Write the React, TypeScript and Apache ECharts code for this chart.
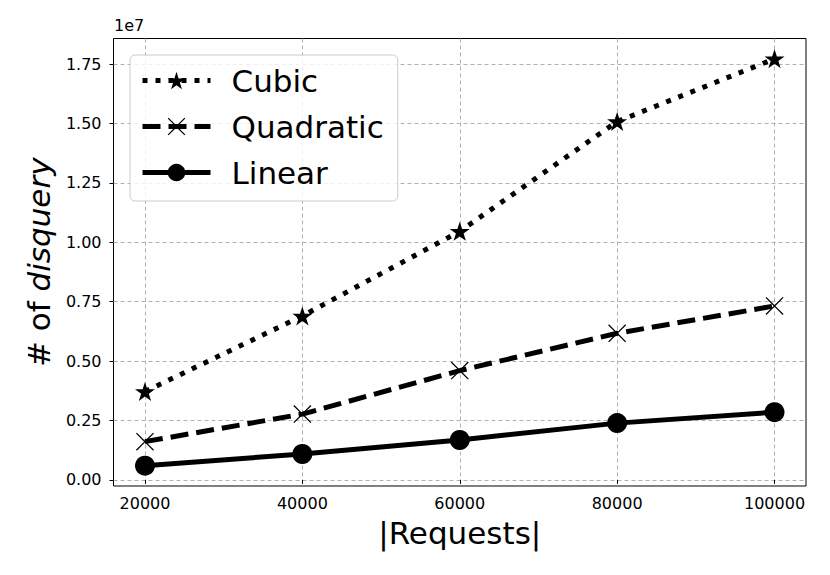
import React, { useEffect, useRef } from "react";
import * as echarts from "echarts";

const requests = [20000, 40000, 60000, 80000, 100000];
const cubic = [3720000, 6900000, 10460000, 15080000, 17720000];
const quadratic = [1610000, 2770000, 4600000, 6170000, 7320000];
const linear = [600000, 1090000, 1680000, 2390000, 2850000];
const xTicks = [20000, 40000, 60000, 80000, 100000];
const yTicks = [0, 2500000, 5000000, 7500000, 10000000, 12500000, 15000000, 17500000];

const STAR =
  "path://M50 0 L38.77 34.55 L2.45 34.55 L31.83 55.9 L20.61 90.45 L50 69.1 L79.39 90.45 L68.17 55.9 L97.55 34.55 L61.23 34.55 Z";
const XMARK =
  "path://M0 5 L5 0 L50 45 L95 0 L100 5 L55 50 L100 95 L95 100 L50 55 L5 100 L0 95 L45 50 Z";

const FONT = "DejaVu Sans";

export default function App() {
  const ref = useRef<HTMLDivElement>(null);
  useEffect(() => {
    const chart = echarts.init(ref.current!, null, { renderer: "svg" });
    const mk = (arr: number[]) => requests.map((x, i) => [x, arr[i]]);
    chart.setOption({
      animation: false,
      backgroundColor: "#fff",
      grid: {
        left: 113.5,
        right: 24,
        top: 38.5,
        bottom: 89,
        show: true,
        borderColor: "#000",
        borderWidth: 1,
        backgroundColor: "transparent",
      },
      graphic: [
        {
          type: "text",
          left: 114,
          top: 17,
          style: { text: "1e7", fontSize: 16, fontFamily: FONT, fill: "#000" },
        },
      ],
      legend: {
        orient: "vertical",
        left: 130,
        top: 55,
        data: ["Cubic", "Quadratic", "Linear"],
        itemWidth: 68,
        itemHeight: 22,
        itemGap: 15,
        padding: [10, 14, 13, 10],
        backgroundColor: "rgba(255,255,255,0.8)",
        borderColor: "#cccccc",
        borderWidth: 1,
        borderRadius: 5,
        lineStyle: { width: 5 },
        textStyle: {
          fontSize: 31,
          fontFamily: FONT,
          color: "#000",
          padding: [0, 0, 0, 16],
        },
      },
      xAxis: {
        type: "value",
        min: 16000,
        max: 104000,
        name: "|Requests|",
        nameLocation: "middle",
        nameGap: 31,
        nameTextStyle: { fontSize: 31, fontFamily: FONT, color: "#000" },
        axisLine: { show: false },
        axisTick: {
          show: true,
          length: 4,
          customValues: xTicks,
          lineStyle: { color: "#000", width: 1 },
        },
        axisLabel: {
          customValues: xTicks,
          fontSize: 16,
          fontFamily: FONT,
          color: "#000",
          margin: 9,
          formatter: (v: number) => String(v),
        },
        splitLine: {
          show: true,
          lineStyle: { color: "#b0b0b0", width: 1, type: [4, 3] },
        },
      },
      yAxis: {
        type: "value",
        min: -256000,
        max: 18576000,
        name: "# of {i|disquery}",
        nameLocation: "middle",
        nameRotate: 90,
        nameGap: 58,
        nameTextStyle: {
          fontSize: 31,
          fontFamily: FONT,
          color: "#000",
          rich: {
            i: { fontSize: 31, fontFamily: FONT, fontStyle: "italic", color: "#000" },
          },
        },
        axisLine: { show: false },
        axisTick: {
          show: true,
          length: 4,
          customValues: yTicks,
          lineStyle: { color: "#000", width: 1 },
        },
        axisLabel: {
          customValues: yTicks,
          fontSize: 16,
          fontFamily: FONT,
          color: "#000",
          margin: 12,
          formatter: (v: number) => (v / 1e7).toFixed(2),
        },
        splitLine: {
          show: true,
          lineStyle: { color: "#b0b0b0", width: 1, type: [4, 3] },
        },
      },
      series: [
        {
          name: "Cubic",
          type: "line",
          data: mk(cubic),
          symbol: STAR,
          symbolKeepAspect: true,
          symbolSize: 20,
          itemStyle: { color: "#000" },
          lineStyle: { color: "#000", width: 5, type: [5, 8] },
          z: 2,
        },
        {
          name: "Quadratic",
          type: "line",
          data: mk(quadratic),
          symbol: XMARK,
          symbolKeepAspect: true,
          symbolSize: 18,
          itemStyle: { color: "#000" },
          lineStyle: { color: "#000", width: 5, type: [18, 8] },
          z: 3,
        },
        {
          name: "Linear",
          type: "line",
          data: mk(linear),
          symbol: "circle",
          symbolSize: 20,
          itemStyle: { color: "#000" },
          lineStyle: { color: "#000", width: 5 },
          z: 4,
        },
      ],
    });
    return () => chart.dispose();
  }, []);
  return (
    <div
      ref={ref}
      style={{ position: "fixed", left: 0, top: 0, width: 830, height: 575 }}
    />
  );
}
